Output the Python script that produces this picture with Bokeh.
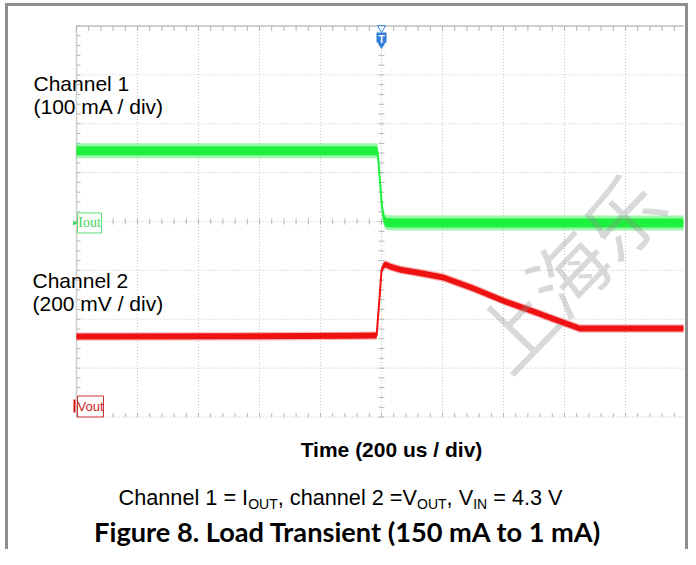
import numpy as np
from bokeh.plotting import figure
from bokeh.models import Range1d, Label
from bokeh.embed import file_html
from bokeh.resources import INLINE

# ---------------- data ----------------
# Channel 1: output current (mA), 100 mA/div
iout_time_us = [-1000, -600, -200, -16, -13, -9, -6, -3, 0, 3, 6, 10, 16, 40, 400, 990]
iout_ma = [148, 148, 148, 148, 145, 120, 92, 70, 46, 26, 13, 5, 1, 0, 0, 0]
# Channel 2: output voltage (mV above the channel marker), 200 mV/div
vout_time_us = [-1000, -500, -100, -16, -8, 0, 6, 13, 30, 62, 130, 203, 302, 403, 498, 560, 650, 800, 990]
vout_mv = [286, 287, 289, 290, 420, 556, 575, 581, 572, 560, 545, 528, 483, 431, 389, 360, 319, 319, 319]

ch1_ma_per_div = 100
ch2_mv_per_div = 200
ch1_ref_div = -0.03
ch2_ref_div = -3.785
trigger_time_us = [0]

time_div_us = [-1000, -800, -600, -400, -200, 0, 200, 400, 600, 800, 1000]
volt_div = [-4, -3, -2, -1, 0, 1, 2, 3, 4]

channel1_label = ["Channel 1", "(100 mA / div)"]
channel2_label = ["Channel 2", "(200 mV / div)"]
x_title = "Time (200 us / div)"
caption_parts = [("Channel 1 = I", 0), ("OUT", 1), (", channel 2 =V", 0), ("OUT", 1),
                 (", V", 0), ("IN", 1), (" = 4.3 V", 0)]
fig_title = "Figure 8. Load Transient (150 mA to 1 mA)"
watermark = "上海乐"

# ---------------- pixel <-> data helpers (layout only) ----------------
W, H = 688, 549
US_PER_PX = 2000.0 / 610.0
PX_PER_DIV = 48.875


def X(px):  # picture x pixel -> time (us)
    return -1000 + (px - 76) * US_PER_PX


def Y(py):  # picture y pixel -> divisions
    return (221 - py) / PX_PER_DIV


def LY(baseline_px, size):  # label anchor for a wanted text baseline
    return Y(baseline_px - 0.38 * size)


def dX(px):
    return px * US_PER_PX


def dY(px):
    return px / PX_PER_DIV


p = figure(width=W, height=H, output_backend="svg", toolbar_location=None,
           x_range=Range1d(X(0), X(W)), y_range=Range1d(Y(H), Y(0)),
           min_border=0, min_border_left=0, min_border_right=0,
           min_border_top=0, min_border_bottom=0)
p.axis.visible = False
p.grid.visible = False
p.outline_line_color = None
p.background_fill_color = "white"
p.border_fill_color = "white"

GRID = "#c4c4c4"
TICK = "#b4b4b4"
t_lo, t_hi = time_div_us[0], time_div_us[-1]
v_lo, v_hi = volt_div[0], volt_div[-1]

# dotted division grid
inner_t = time_div_us[1:-1]
p.segment(x0=inner_t, x1=inner_t, y0=[v_lo] * len(inner_t), y1=[v_hi] * len(inner_t),
          line_color=GRID, line_width=1, line_dash="1 2")
inner_v = volt_div[1:-1]
p.segment(x0=[t_lo] * len(inner_v), x1=[t_hi] * len(inner_v), y0=inner_v, y1=inner_v,
          line_color=GRID, line_width=1, line_dash="1 2")
# bottom edge dotted, top / left edges solid
p.segment(x0=[t_lo], x1=[t_hi], y0=[v_lo], y1=[v_lo], line_color=GRID, line_dash="1 2")
p.segment(x0=[t_lo], x1=[X(683)], y0=[v_hi], y1=[v_hi], line_color="#cfcfcf", line_width=2)
p.segment(x0=[t_lo], x1=[t_lo], y0=[v_lo], y1=[v_hi], line_color="#cfcfcf", line_width=1.5)

# minor ticks (5 per division)
minor_t = [t_lo + k * (t_hi - t_lo) / 50 for k in range(50)]
minor_v = [v_lo + k * (v_hi - v_lo) / 40 for k in range(41)]
n_t = len(minor_t)
n_v = len(minor_v)
p.segment(x0=minor_t, x1=minor_t, y0=[v_hi] * n_t, y1=[v_hi - dY(5)] * n_t, line_color=TICK)
p.segment(x0=minor_t, x1=minor_t, y0=[v_lo] * n_t, y1=[v_lo + dY(4)] * n_t, line_color=TICK)
p.segment(x0=minor_t, x1=minor_t, y0=[-dY(3)] * n_t, y1=[dY(3)] * n_t, line_color=TICK)
p.segment(x0=[t_lo] * n_v, x1=[t_lo + dX(4)] * n_v, y0=minor_v, y1=minor_v, line_color=TICK)
p.segment(x0=[-dX(3)] * n_v, x1=[dX(3)] * n_v, y0=minor_v, y1=minor_v, line_color=TICK)

# ---------------- traces ----------------
GREEN = "#1ef03e"
RED = "#ee1212"
it = np.array(iout_time_us, dtype=float)
iy = ch1_ref_div + np.array(iout_ma, dtype=float) / ch1_ma_per_div
p.varea(x=it, y1=iy - dY(7.5), y2=iy + dY(7.5), fill_color=GREEN, fill_alpha=0.45)
p.varea(x=it, y1=iy - dY(4.5), y2=iy + dY(4.5), fill_color=GREEN, fill_alpha=1.0)
p.line(x=it, y=iy, line_color=GREEN, line_width=2)

vt = np.array(vout_time_us, dtype=float)
vy = ch2_ref_div + np.array(vout_mv, dtype=float) / ch2_mv_per_div
p.varea(x=vt, y1=vy - dY(4.2), y2=vy + dY(4.2), fill_color=RED, fill_alpha=0.3)
p.varea(x=vt, y1=vy - dY(3.0), y2=vy + dY(3.0), fill_color=RED, fill_alpha=1.0)
p.line(x=vt, y=vy, line_color=RED, line_width=2)

# ---------------- channel reference markers ----------------
p.rect(x=[X(89)], y=[ch1_ref_div], width=24, height=20, width_units="screen",
       height_units="screen", fill_color="white", line_color="#5fdc74", line_width=1)
p.add_layout(Label(x=X(89), y=ch1_ref_div, text="Iout", text_align="center",
                   text_baseline="middle", text_font="Liberation Serif",
                   text_font_size="14px", text_color="#3fd45c"))
p.scatter(x=[X(74)], y=[ch1_ref_div], marker="triangle", angle=-90, angle_units="deg",
          size=5, fill_color="#3fd45c", line_color=None)

p.rect(x=[X(90)], y=[ch2_ref_div], width=26, height=21, width_units="screen",
       height_units="screen", fill_color="white", line_color="#c83232", line_width=1)
p.add_layout(Label(x=X(90), y=ch2_ref_div, text="Vout", text_align="center",
                   text_baseline="middle", text_font="Liberation Sans",
                   text_font_size="13px", text_color="#c81e1e"))
p.segment(x0=[X(74)], x1=[X(74)], y0=[ch2_ref_div - dY(6)], y1=[ch2_ref_div + dY(7)],
          line_color="#dd1111", line_width=2)

# trigger marker
BLUE = "#2f7fd8"
p.scatter(x=trigger_time_us, y=[Y(27.5)], marker="inverted_triangle", size=8,
          fill_color="white", line_color=BLUE, line_width=1)
p.scatter(x=trigger_time_us, y=[Y(37)], marker="square", size=10, fill_color=BLUE,
          line_color=None)
p.scatter(x=trigger_time_us, y=[Y(43.5)], marker="inverted_triangle", size=9,
          fill_color=BLUE, line_color=None)
p.add_layout(Label(x=trigger_time_us[0], y=Y(38.5), text="T", text_align="center",
                   text_baseline="middle", text_font="Liberation Sans",
                   text_font_style="bold", text_font_size="10px", text_color="white"))

# ---------------- texts ----------------
FONT = "Liberation Sans"
for txt, by in zip(channel1_label, [91, 114]):
    p.add_layout(Label(x=X(33), y=LY(by, 21), text=txt, text_font=FONT,
                       text_font_size="21px", text_color="black",
                       text_baseline="alphabetic"))
for txt, by in zip(channel2_label, [288, 311]):
    p.add_layout(Label(x=X(32), y=LY(by, 21), text=txt, text_font=FONT,
                       text_font_size="21px", text_color="black",
                       text_baseline="alphabetic"))

p.add_layout(Label(x=X(391), y=LY(457, 21), text=x_title, text_font=FONT,
                   text_font_style="bold", text_font_size="21px", text_align="center",
                   text_baseline="alphabetic", text_color="black"))

# caption with subscripts (Liberation Sans = Arial metrics)
ARIAL = {'C': 722, 'h': 556, 'a': 556, 'n': 556, 'e': 556, 'l': 222, ' ': 278, '1': 556,
         '=': 584, 'I': 278, ',': 278, 'c': 500, '2': 556, 'V': 667, 'O': 778, 'U': 722,
         'T': 611, 'N': 722, '4': 556, '.': 278, '3': 556}
CAP_SIZE, SUB_SIZE = 21.7, 14
cur = 118.0
for txt, sub in caption_parts:
    size = SUB_SIZE if sub else CAP_SIZE
    base = 505 + (4 if sub else 0)
    shown = txt.lstrip(" ")
    lead = (len(txt) - len(shown)) * ARIAL[' '] * size / 1000.0
    p.add_layout(Label(x=X(cur + lead), y=LY(base, size), text=shown, text_font=FONT,
                       text_font_size=f"{size}px", text_color="black",
                       text_baseline="alphabetic"))
    cur += sum(ARIAL[ch] for ch in txt) * size / 1000.0

p.add_layout(Label(x=X(347.5), y=LY(541, 27.2), text=fig_title, text_font="Lato",
                   text_font_style="bold", text_font_size="27.2px", text_align="center",
                   text_baseline="alphabetic", text_color="black"))

# watermark: one rotated glyph after another along a 46 degree line
WM_SIZE = 78
WM_ANGLE = np.deg2rad(46)
wm_cx, wm_cy = 566, 270
for k, ch in enumerate(watermark):
    off = (k - (len(watermark) - 1) / 2) * WM_SIZE
    cx = wm_cx + off * np.cos(WM_ANGLE)
    cy = wm_cy - off * np.sin(WM_ANGLE)
    p.add_layout(Label(x=X(cx), y=Y(cy), text=ch, text_font="Noto Sans CJK SC",
                       text_font_size=f"{WM_SIZE}px", text_align="center",
                       text_baseline="middle", angle=46, angle_units="deg",
                       text_color="#8c8c8c", text_alpha=0.33))

# page frame (left, top, right)
FRAME = "#8e8e8e"
p.segment(x0=[X(6)], x1=[X(6)], y0=[Y(3)], y1=[Y(H)], line_color=FRAME, line_width=3)
p.segment(x0=[X(4.5)], x1=[X(687.5)], y0=[Y(4)], y1=[Y(4)], line_color=FRAME, line_width=3)
p.segment(x0=[X(686)], x1=[X(686)], y0=[Y(3)], y1=[Y(H)], line_color=FRAME, line_width=3)

open("out.html", "w").write(file_html(p, INLINE))
